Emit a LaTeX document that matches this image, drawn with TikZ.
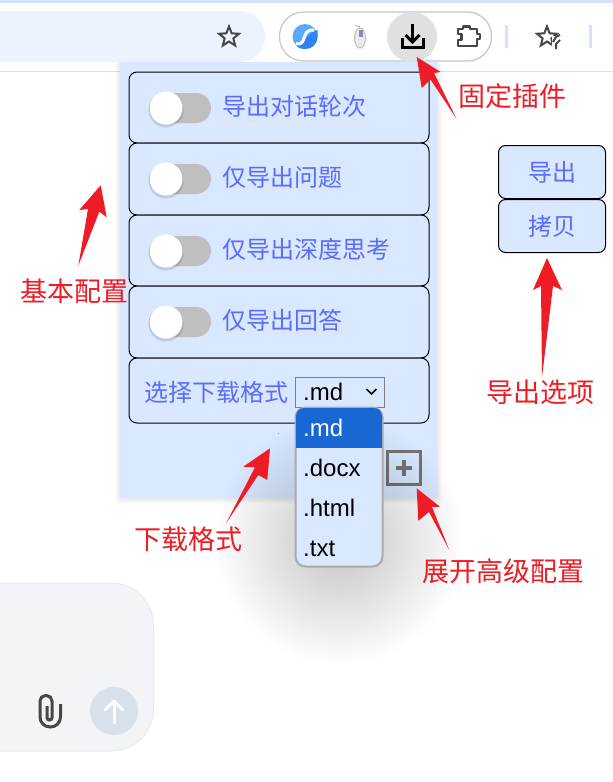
\documentclass[tikz,border=0pt]{standalone}
\usepackage{fontspec}
\setmainfont{Liberation Sans}
\newfontfamily\cjk{Noto Sans CJK SC}
\usetikzlibrary{shapes.geometric,fadings}
\definecolor{panelblue}{HTML}{D9E8FF}
\definecolor{labelblue}{HTML}{5A6BFF}
\definecolor{markred}{HTML}{EE1C25}
\definecolor{toolgray}{HTML}{474747}
\definecolor{pillgray}{HTML}{C4C7C5}
\definecolor{sepblue}{HTML}{D3E3FD}
\definecolor{highblue}{HTML}{1967D2}
\definecolor{chatgray}{HTML}{F2F4F7}
\definecolor{sendblue}{HTML}{D8E0EA}
\definecolor{logolight}{HTML}{5AA9FF}
\definecolor{logodark}{HTML}{2F84F5}
\tikzfading[name=softglow,inner color=transparent!0,outer color=transparent!100]
\tikzset{rowbox/.style={rectangle,rounded corners=8pt,draw=black,line width=1pt,fill=panelblue,minimum width=300pt,inner sep=0pt},
  rowtext/.style={anchor=west,inner sep=0pt,text=labelblue,font=\cjk\fontsize{24}{24}\selectfont},
  btnbox/.style={rectangle,rounded corners=7pt,draw=black,line width=1pt,fill=panelblue,minimum width=107pt,minimum height=53pt,inner sep=0pt,text=labelblue,font=\cjk\fontsize{24}{24}\selectfont},
  marktext/.style={anchor=west,inner sep=0pt,text=markred,font=\cjk\fontsize{27}{27}\selectfont},
  track/.style={rectangle,rounded corners=15pt,fill=black!25,minimum width=62pt,minimum height=30pt,inner sep=0pt},
  knob/.style={circle,fill=white,minimum size=33pt,inner sep=0pt},
  optitem/.style={anchor=base west,inner sep=0pt,font=\fontsize{24}{24}\selectfont},
  staricon/.style={star,star points=5,star point ratio=2.3,draw=toolgray,line width=2pt,minimum size=21pt,inner sep=0pt}}
\begin{document}
\begin{tikzpicture}[x=1pt,y=-1pt]
\clip (0,0) rectangle (613,782);
\fill[white] (0,0) rectangle (613,782);

% browser bar
\fill[sepblue] (0,0) rectangle (613,3);
\fill[sepblue!45] (-40,11) [rounded corners=25pt] rectangle (265,62);
\draw[black!12,line width=1pt] (0,71) -- (613,71);
\node (pagestar) at (229,37)[staricon]{};
\node (pill) at (385.5,36.5)[rectangle,rounded corners=24pt,draw=pillgray,line width=1.2pt,fill=white,minimum width=212pt,minimum height=49pt,inner sep=0pt]{};
\node (logo) at (305,36.5)[circle,fill=logolight,minimum size=25pt,inner sep=0pt]{};
\fill[logodark] (317.5,36.5) .. controls (317.5,45) and (311,49) .. (305,49) .. controls (300,49) and (297,47) .. (295.5,45) .. controls (305,47) and (305,33) .. (317.5,30) -- cycle;
\draw[white,line width=3pt] (296,44) .. controls (308,46) and (300,29) .. (314,30);
\node (mouse) at (360,38)[ellipse,draw=black!25,fill=black!8,line width=1pt,minimum width=11pt,minimum height=20pt,inner sep=0pt]{};
\fill[blue!30!black!45] (358.5,30) rectangle (362.5,37);
\draw[black!30,line width=0.8pt] (360,28) .. controls (360,25) and (356,27) .. (355,25);
\node (active) at (412,37)[circle,fill=black!12,minimum size=50pt,inner sep=0pt]{};
\draw[black,line width=3pt] (402,38) -- (402,47) -- (423,47) -- (423,38);
\draw[black,line width=3pt] (412.5,24) -- (412.5,41);
\draw[black,line width=3pt] (405.5,35) -- (412.5,42) -- (419.5,35);
\draw[toolgray,line width=2.2pt,line join=round] (458,29) -- (463,29) -- (463,26.5) -- (470,26.5) -- (470,29) -- (477,29) -- (477,34) -- (480,34) -- (480,39) -- (477,39) -- (477,46) -- (458,46) -- (458,40) -- (461.5,40) -- (461.5,34) -- (458,34) -- cycle;
\fill[sepblue] (505,25) rectangle (508,48);
\fill[sepblue] (589,25) rectangle (592,48);
\node (barstar) at (547,37)[staricon]{};
\fill[white] (552,36) -- (562,36) -- (562,50) -- (552,50) -- cycle;
\draw[toolgray,line width=2pt] (553,42) -- (556,37) -- (560,35);
\draw[toolgray,line width=2pt] (556,49) -- (556,44) -- (560,40);

% chat box
\node (chat) at (56,667)[rectangle,rounded corners=42pt,draw=black!8,line width=1pt,fill=chatgray,minimum width=195pt,minimum height=168pt,inner sep=0pt]{};
\draw[toolgray,line width=3pt] (60.5,704) [rounded corners=10pt] -- (60.5,727) -- (40,727) [rounded corners=5.5pt] -- (40,695.5) -- (52,695.5) [rounded corners=2.4pt] -- (52,720) -- (47,720) [sharp corners] -- (47,706);
\node (send) at (114,711)[circle,fill=sendblue,minimum size=48pt,inner sep=0pt]{};
\draw[white,line width=3pt,line cap=round] (114,723) -- (114,702);
\draw[white,line width=3pt,line cap=round,line join=round] (105,710) -- (114,701) -- (123,710);

% panel
\foreach \s in {1,2,3,4,5}
  \fill[black,opacity=0.016,rounded corners=3pt] (120-\s,62) rectangle (437+\s,498+\s);
\node (panel) at (278.5,280)[rectangle,fill=panelblue,minimum width=317pt,minimum height=436pt,inner sep=0pt]{};
\node (row1) at (279,107.5)[rowbox,minimum height=71pt]{};
\node (row2) at (279,179)[rowbox,minimum height=72pt]{};
\node (row3) at (279,250.5)[rowbox,minimum height=71pt]{};
\node (row4) at (279,322)[rowbox,minimum height=72pt]{};
\node (row5) at (279,390.5)[rowbox,minimum height=65pt]{};
\node (track1) at (180,108)[track]{};
\node (track2) at (180,179)[track]{};
\node (track3) at (180,251)[track]{};
\node (track4) at (180,322)[track]{};
\fill[black,opacity=0.12] (166,110) circle (17.5);
\fill[black,opacity=0.12] (166,181) circle (17.5);
\fill[black,opacity=0.12] (166,253) circle (17.5);
\fill[black,opacity=0.12] (166,324) circle (17.5);
\node (knob1) at (166,108)[knob]{};
\node (knob2) at (166,179)[knob]{};
\node (knob3) at (166,251)[knob]{};
\node (knob4) at (166,322)[knob]{};
\node (text1) at (222,106)[rowtext]{导出对话轮次};
\node (text2) at (222,177)[rowtext]{仅导出问题};
\node (text3) at (222,249)[rowtext]{仅导出深度思考};
\node (text4) at (222,320)[rowtext]{仅导出回答};
\node (text5) at (144,392)[rowtext]{选择下载格式};
\fill[black!40] (277.5,432.5) rectangle (279,434);

% plus button
\node (plus) at (404,468)[rectangle,draw=black!55,line width=3.5pt,fill=panelblue,minimum size=33pt,inner sep=0pt]{};
\draw[black!55,line width=3.5pt] (396,468) -- (412,468);
\draw[black!55,line width=3.5pt] (404,460) -- (404,476);

% dropdown
\fill[black,opacity=0.24,path fading=softglow] (339,540) circle (125);
\node (select) at (340,392)[rectangle,draw=black!50,line width=1pt,fill=panelblue,minimum width=89pt,minimum height=30pt,inner sep=0pt]{};
\node (seltext) at (303,400)[optitem]{.md};
\draw[black,line width=1.6pt] (366.5,389) -- (371.5,394) -- (376.5,389);
\node (list) at (339,487)[rectangle,rounded corners=10pt,draw=black!33,line width=2pt,fill=panelblue,minimum width=87pt,minimum height=159pt,inner sep=0pt]{};
\fill[highblue,rounded corners=8pt] (296,408) rectangle (382,430);
\fill[highblue] (296,420) rectangle (382,448);
\node (opt1) at (303,436)[optitem,text=white]{.md};
\node (opt2) at (303,476)[optitem]{.docx};
\node (opt3) at (303,516)[optitem]{.html};
\node (opt4) at (303,556)[optitem]{.txt};

% export buttons
\node (btnout) at (552,172)[btnbox]{导出};
\node (btncopy) at (552,226)[btnbox]{拷贝};

% red marks
\fill[markred] (416.7,57) -- (421.7,88) -- (430.5,79.5) -- (456.7,119) -- (434,73) -- (440.7,72) -- cycle;
\fill[markred] (100.7,185.3) -- (79.3,210) -- (88,209) -- (78.3,265.7) -- (99.3,211.7) -- (106.7,217.3) -- cycle;
\fill[markred] (270,448.3) -- (243.3,466.7) -- (255,467.3) -- (226,523.3) -- (258.3,475) -- (267.3,480) -- cycle;
\fill[markred] (416.7,488.3) -- (418.3,520.7) -- (429,512) -- (449.3,550) -- (432,507) -- (440,506.7) -- cycle;
\fill[markred] (547,258) -- (533,290) -- (541,286) -- (542,377) -- (553,286) -- (562,290) -- cycle;
\node (markpin) at (458,96)[marktext]{固定插件};
\node (markbase) at (20,291)[marktext]{基本配置};
\node (markformat) at (134,539)[marktext]{下载格式};
\node (markmore) at (422,571)[marktext]{展开高级配置};
\node (markout) at (486,392)[marktext]{导出选项};
\end{tikzpicture}
\end{document}
